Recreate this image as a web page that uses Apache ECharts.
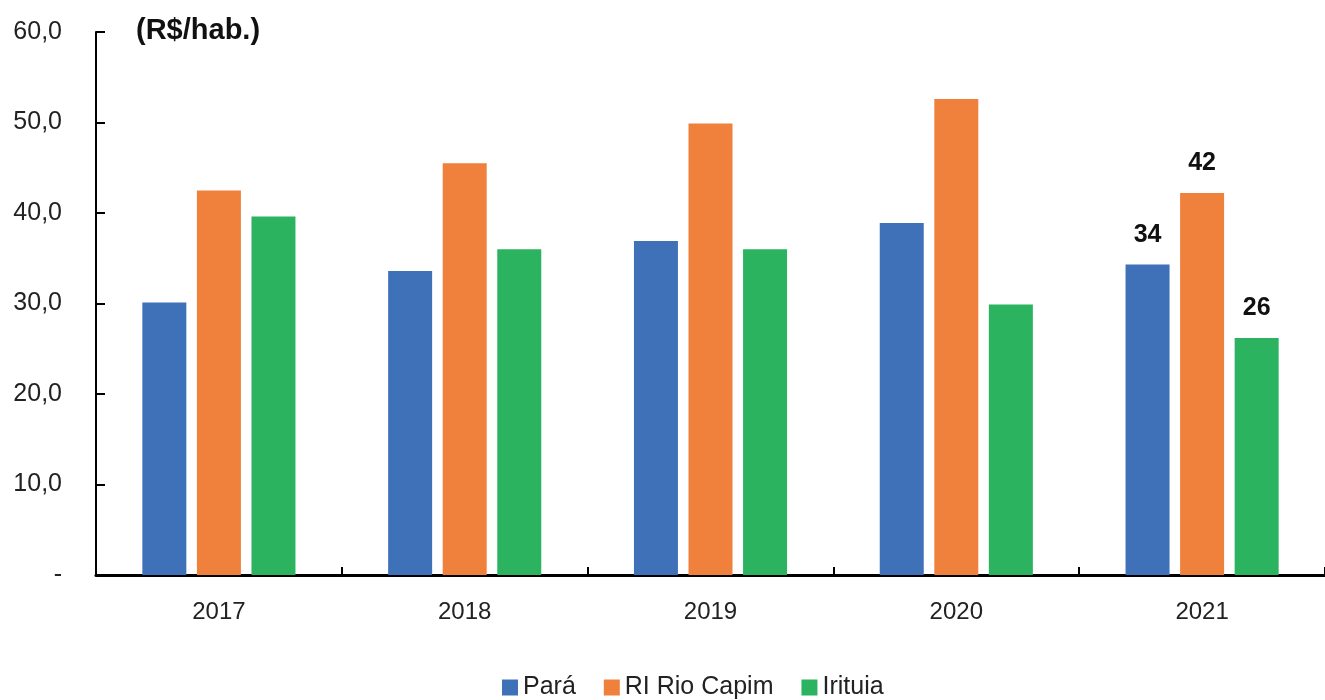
<!DOCTYPE html>
<html><head><meta charset="utf-8">
<script src="https://cdn.jsdelivr.net/npm/echarts@6/dist/echarts.min.js"></script>
<style>html,body{margin:0;padding:0;background:#fff}#c{width:1325px;height:700px}</style>
</head><body><div id="c"></div>
<script>
const categories = ['2017','2018','2019','2020','2021'];
const para = [30.1, 33.6, 36.9, 38.9, 34.3];
const rioCapim = [42.5, 45.5, 49.9, 52.6, 42.2];
const irituia = [39.6, 36.0, 36.0, 29.9, 26.2];
const yTicks = [0, 10, 20, 30, 40, 50, 60];
const seriesNames = ['Pará', 'RI Rio Capim', 'Irituia'];
const colors = ['#3F71B8', '#F0813D', '#2BB35F'];

const font = '"Liberation Sans", Arial, sans-serif';
const chart = echarts.init(document.getElementById('c'));
function lastLabel(idx) {
  return {
    show: true, position: 'top', distance: 17,
    fontFamily: font, fontSize: 25, fontWeight: 'bold', color: '#111',
    formatter: p => p.dataIndex === categories.length - 1 ? Math.round(p.value) : ''
  };
}
const data = [para, rioCapim, irituia];
chart.setOption({
  animation: false,
  color: colors,
  grid: { left: 96, right: 0, top: 32, bottom: 125 },
  legend: {
    top: 670, left: 497, itemWidth: 16, itemHeight: 16, itemGap: 28,
    icon: 'rect',
    textStyle: { fontFamily: font, fontSize: 25, color: '#222' },
    data: seriesNames
  },
  graphic: [{
    type: 'text', left: 136, top: 16,
    style: { text: '(R$/hab.)', fontFamily: font, fontSize: 29, fontWeight: 'bold', fill: '#111' }
  }],
  xAxis: {
    type: 'category', data: categories,
    axisLine: { lineStyle: { color: '#000', width: 3 } },
    axisTick: { show: true, inside: true, length: 8, lineStyle: { color: '#000', width: 2 } },
    axisLabel: { fontFamily: font, fontSize: 24, color: '#222', margin: 25 }
  },
  yAxis: {
    type: 'value', min: 0, max: 60, interval: 10,
    splitLine: { show: false },
    axisLine: { show: true, lineStyle: { color: '#000', width: 2 } },
    axisTick: { show: true, inside: true, length: 9, lineStyle: { color: '#000', width: 2 } },
    axisLabel: {
      fontFamily: font, fontSize: 25, color: '#222', margin: 34,
      formatter: v => yTicks.indexOf(v) >= 0 ? (v === 0 ? '-' : v.toFixed(1).replace('.', ',')) : ''
    }
  },
  series: seriesNames.map((n, i) => ({
    name: n, type: 'bar', data: data[i], barWidth: 44, barGap: '24%',
    itemStyle: { color: colors[i] },
    label: lastLabel(i)
  }))
});
</script></body></html>
